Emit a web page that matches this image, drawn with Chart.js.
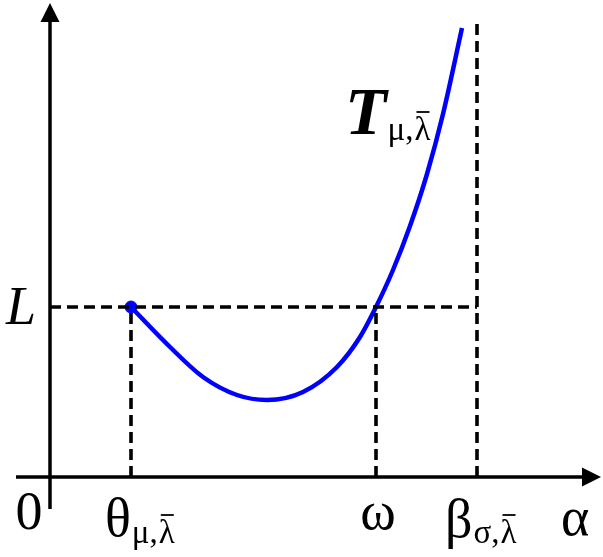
<!DOCTYPE html>
<html>
<head>
<meta charset="utf-8">
<script src="https://cdn.jsdelivr.net/npm/chart.js@4.4.0/dist/chart.umd.min.js"></script>
<style>
  html, body { margin: 0; padding: 0; background: #fff; }
</style>
</head>
<body>
<canvas id="fig" width="603" height="557"></canvas>
<script>
// curve T(alpha) (origin = where the axes cross)
var curveX = [81, 120, 153, 187, 217, 253, 287, 310, 326, 343, 360, 377, 393, 412];
var curveY = [170, 130, 100, 82, 77, 85, 110, 140, 170, 207, 251, 303, 363, 449];

// marked values on the axes
var levelL = 170;
var thetaX = 81;
var omegaX = 326;
var betaX = 427;
var betaTop = 453;

// visible window and axis ends
var xRange = [-50, 553];
var yRange = [-80, 477];
var xAxisEnds = [-34, 551];
var yAxisEnds = [-32, 474];

var serif = '"Liberation Serif", "Times New Roman", serif';
var blue = "#0000ff";

function seg(x0, y0, x1, y1) {
  return [{ x: x0, y: y0 }, { x: x1, y: y1 }];
}

var dashed = {
  borderColor: "#000",
  borderWidth: 3.6,
  borderDash: [11, 6],
  pointRadius: 0,
  fill: false,
  tension: 0,
};

// axes with arrow heads + math labels
var figurePlugin = {
  id: "figure",
  beforeDatasetsDraw: function (chart) {
    var ctx = chart.ctx;
    var sx = chart.scales.x, sy = chart.scales.y;
    var ox = sx.getPixelForValue(0), oy = sy.getPixelForValue(0);
    var xr = sx.getPixelForValue(xAxisEnds[1]);
    var yt = sy.getPixelForValue(yAxisEnds[1]);
    ctx.save();
    ctx.strokeStyle = "#000";
    ctx.fillStyle = "#000";
    ctx.lineWidth = 3.5;
    ctx.beginPath();
    ctx.moveTo(sx.getPixelForValue(xAxisEnds[0]), oy);
    ctx.lineTo(xr - 10, oy);
    ctx.moveTo(ox, sy.getPixelForValue(yAxisEnds[0]));
    ctx.lineTo(ox, yt + 10);
    ctx.stroke();
    // arrow heads
    ctx.beginPath();
    ctx.moveTo(xr, oy);
    ctx.lineTo(xr - 19, oy - 9.5);
    ctx.lineTo(xr - 19, oy + 9.5);
    ctx.closePath();
    ctx.fill();
    ctx.beginPath();
    ctx.moveTo(ox, yt);
    ctx.lineTo(ox - 9.5, yt + 19);
    ctx.lineTo(ox + 9.5, yt + 19);
    ctx.closePath();
    ctx.fill();
    ctx.restore();
  },
  afterDraw: function (chart) {
    var ctx = chart.ctx;
    var sx = chart.scales.x, sy = chart.scales.y;
    var ox = sx.getPixelForValue(0), oy = sy.getPixelForValue(0);
    ctx.save();
    ctx.fillStyle = "#000";
    ctx.strokeStyle = "#000";
    ctx.textBaseline = "alphabetic";
    ctx.textAlign = "left";

    // main symbol with a subscript "<first>,λ̄"
    function sub(main, first, x, y, mf, dy) {
      ctx.font = mf;
      ctx.fillText(main, x, y);
      var cx = x + ctx.measureText(main).width + 1;
      var cy = y + dy;
      ctx.font = "33px " + serif;
      var head = first + ",";
      ctx.fillText(head, cx, cy);
      cx += ctx.measureText(head).width + 1;
      ctx.fillText("\u03bb", cx, cy);
      var lw = ctx.measureText("\u03bb").width;
      ctx.lineWidth = 1.8;
      ctx.beginPath();
      ctx.moveTo(cx + 2, cy - 28);
      ctx.lineTo(cx + lw - 1, cy - 28);
      ctx.stroke();
    }

    ctx.font = "54px " + serif;
    ctx.textAlign = "center";
    ctx.fillText("0", ox - 21, oy + 52);
    ctx.fillText("\u03c9", sx.getPixelForValue(omegaX) + 2, oy + 52);
    ctx.textAlign = "left";
    ctx.fillText("\u03b1", 561, oy + 58);

    sub("\u03b8", "\u03bc", sx.getPixelForValue(thetaX) - 26, oy + 59, "54px " + serif, 7);
    sub("\u03b2", "\u03c3", sx.getPixelForValue(betaX) - 32, oy + 60, "54px " + serif, 6);

    ctx.font = "italic 54px " + serif;
    ctx.fillText("L", 6, sy.getPixelForValue(levelL) + 17);

    sub("T", "\u03bc", 345, 134, "italic bold 68px " + serif, 6);
    ctx.restore();
  },
};

new Chart(document.getElementById("fig"), {
  type: "line",
  data: {
    datasets: [
      Object.assign({ data: seg(0, levelL, betaX, levelL) }, dashed),
      Object.assign({ data: seg(thetaX, 0, thetaX, levelL) }, dashed),
      Object.assign({ data: seg(omegaX, 0, omegaX, levelL) }, dashed),
      Object.assign({ data: seg(betaX, 0, betaX, betaTop) }, dashed),
      {
        label: "T",
        data: curveX.map(function (x, i) { return { x: x, y: curveY[i] }; }),
        borderColor: blue,
        borderWidth: 4.5,
        pointRadius: 0,
        fill: false,
        cubicInterpolationMode: "monotone",
      },
      {
        label: "start",
        data: [{ x: curveX[0], y: curveY[0] }],
        showLine: false,
        pointRadius: 6,
        pointBackgroundColor: blue,
        pointBorderColor: blue,
      },
    ],
  },
  options: {
    responsive: false,
    animation: false,
    devicePixelRatio: 1,
    layout: { padding: 0, autoPadding: false },
    scales: {
      x: { type: "linear", min: xRange[0], max: xRange[1], display: false },
      y: { type: "linear", min: yRange[0], max: yRange[1], display: false },
    },
    plugins: {
      legend: { display: false },
      tooltip: { enabled: false },
    },
  },
  plugins: [figurePlugin],
});
</script>
</body>
</html>
